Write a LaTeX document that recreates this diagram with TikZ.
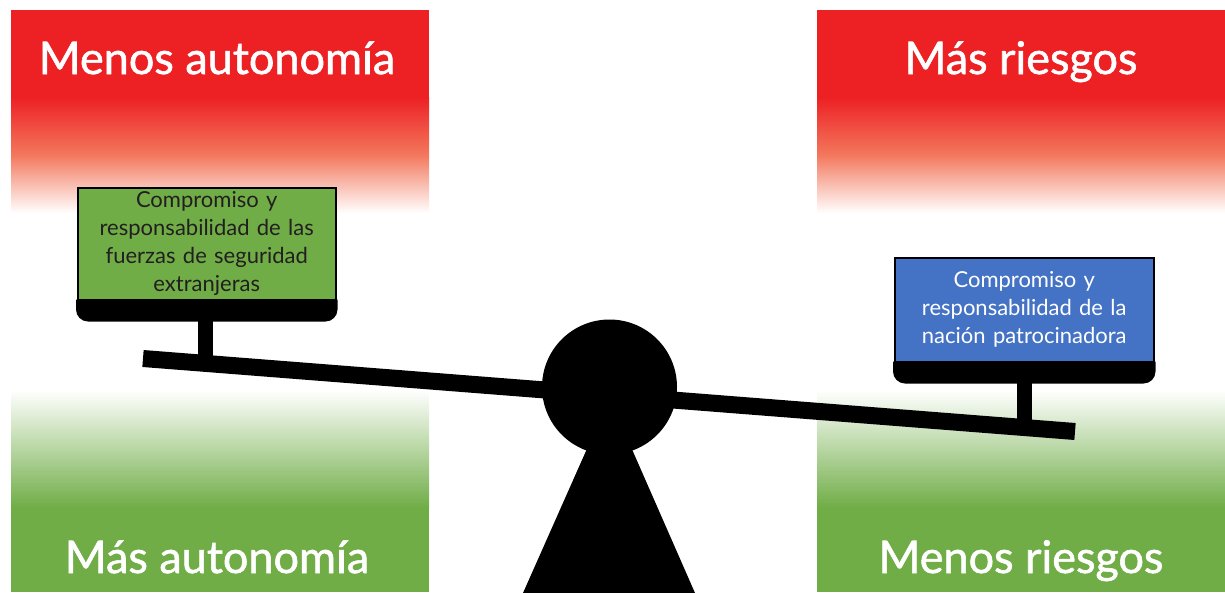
\documentclass[tikz,border=0pt]{standalone}
\usepackage{fontspec}
\setmainfont{Lato}
\newfontfamily\titlefont{Lato}[FakeBold=1.3]
\usetikzlibrary{calc}
\definecolor{myred}{HTML}{ED2024}
\definecolor{midred}{HTML}{F3785D}
\definecolor{mygreen}{HTML}{70AD47}
\definecolor{myblue}{HTML}{4472C4}
\definecolor{ink}{HTML}{231F20}
\tikzset{
  title/.style={anchor=base, text=white, font=\titlefont\fontsize{45}{50}\selectfont},
  panbox/.style={draw=black, line width=1.5pt, anchor=north west, inner sep=0pt, align=center,
     font=\fontsize{22}{28}\selectfont},
  redfade/.style={top color=myred, bottom color=white, middle color=midred},
  greenfade/.style={top color=white, bottom color=mygreen},
}
\newcommand{\panunder}[1]{%
  \fill ($(#1.south west)+(-1,-1)$) -- ($(#1.south west)+(-1,9)$)
    arc[start angle=180, end angle=270, radius=12pt]
    -- ($(#1.south east)+(-11,21)$)
    arc[start angle=270, end angle=360, radius=12pt]
    -- ($(#1.south east)+(1,-1)$) -- cycle;}
\begin{document}
\begin{tikzpicture}[x=1pt, y=-1pt]
\useasboundingbox (0,0) rectangle (1225,592);
% red bands
\fill[myred] (11,10) rectangle (429,97.5);
\shade[redfade] (11,97) rectangle (429,213);
\fill[myred] (817,10) rectangle (1225,97.5);
\shade[redfade] (817,97) rectangle (1225,213);
% green bands
\shade[greenfade] (11,390) rectangle (429,507.5);
\fill[mygreen] (11,507) rectangle (429,592);
\shade[greenfade] (817,390) rectangle (1225,507.5);
\fill[mygreen] (817,507) rectangle (1225,592);
% titles
\node[title] (t1) at (217,74) {Menos autonomía};
\node[title] (t2) at (1021,74) {Más riesgos};
\node[title] (t3) at (217,573) {Más autonomía};
\node[title] (t4) at (1021,573) {Menos riesgos};
% boxes
\node[panbox, fill=mygreen, text=ink, minimum width=258pt, minimum height=112pt, text width=254pt] (gb) at (77,187)
  {Compromiso y\\responsabilidad de las\\fuerzas de seguridad\\extranjeras};
\node[panbox, fill=myblue, text=white, minimum width=259pt, minimum height=104pt, text width=255pt] (bb) at (894,257)
  {Compromiso y\\responsabilidad de la\\nación patrocinadora};
% pans
\panunder{gb}
\panunder{bb}
% stems
\coordinate (bl) at (143,358.5);
\coordinate (br) at (1075,431.5);
\fill (198,318) rectangle (213,362);
\fill (1017,380) rectangle (1032,426);
% beam
\draw[line width=17pt] (bl) -- (br);
% fulcrum
\node[circle, fill=black, minimum size=135pt, inner sep=0pt] (piv) at (609.5,387) {};
\fill (523,593) -- (609.5,398) -- (695,593) -- cycle;
\end{tikzpicture}
\end{document}
